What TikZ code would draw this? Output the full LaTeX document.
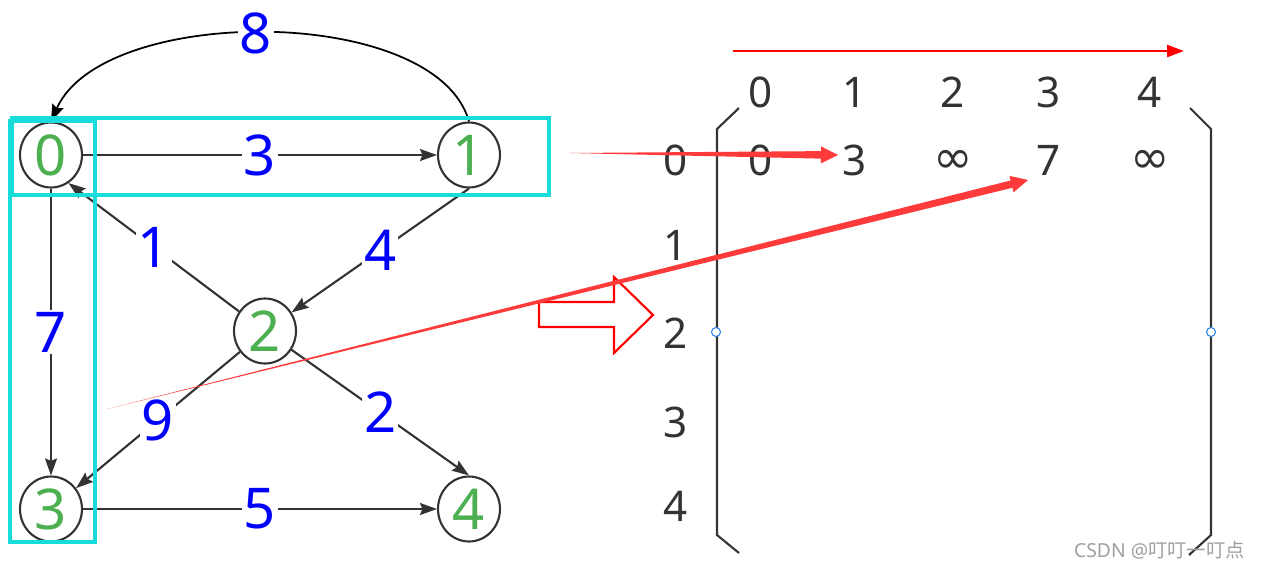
\documentclass[tikz,border=0pt]{standalone}
\usepackage{fontspec}
\setmainfont{Noto Sans}
\newfontfamily\cjk{Noto Sans CJK SC}
\newfontfamily\symfont{DejaVu Sans}
\usetikzlibrary{shapes.geometric,arrows.meta,calc}
\definecolor{edgegray}{HTML}{333333}
\definecolor{numgreen}{RGB}{76,175,80}
\definecolor{selcyan}{RGB}{24,220,220}
\definecolor{wedgered}{RGB}{255,58,58}
\definecolor{selblue}{RGB}{40,130,230}
\tikzset{
  vertex/.style={ellipse, draw=edgegray, line width=1.2pt, minimum width=1.24cm,
    minimum height=1.3cm, inner sep=0pt, text=numgreen, font=\fontsize{32}{32}\selectfont},
  weight/.style={fill=white, text=blue, inner sep=1pt, font=\fontsize{32}{32}\selectfont},
  arc/.style={draw=edgegray, line width=1.2pt, -{Stealth[length=0.34cm,width=0.24cm,inset=0.05cm]}},
  entry/.style={text=edgegray, font=\fontsize{24}{24}\selectfont},
  infty/.style={text=edgegray, font=\symfont\fontsize{27}{27}\selectfont},
  bracket/.style={draw=edgegray, line width=1.2pt},
}
\begin{document}
\begin{tikzpicture}[x=0.02cm,y=-0.02cm]
        \useasboundingbox (0,0) rectangle (1265,569);
        % the graph
        \node[vertex] (v0) at (51,155) {0};
        \node[vertex] (v1) at (469,155) {1};
        \node[vertex] (v2) at (265,331) {2};
        \node[vertex] (v3) at (51,509) {3};
        \node[vertex] (v4) at (469,509) {4};
        \draw[arc] (v0) -- node[weight] {3} (v1);
        \draw[arc] (v1.south) -- node[weight] {4} (v2);
        \draw[arc] (v2) -- node[weight] {1} (v0.-58);
        \draw[arc] (v0) -- node[weight] {7} (v3);
        \draw[arc] (v2) -- node[weight] {9} (v3);
        \draw[arc] (v2) -- node[weight] {2} (v4.north);
        \draw[arc] (v3) -- node[weight] {5} (v4);
        \draw[arc, draw=black, line width=1pt] (v1.north) .. controls (436,4) and (103,4) .. node[weight, pos=0.52] {8} (v0.north);
        % selection boxes
        \draw[selcyan, line width=2pt] (12,118) rectangle (549,195);
        \draw[selcyan, line width=2pt] (10,121) rectangle (95,542);
        % the matrix
        \foreach \c [count=\i from 0] in {761,855,953,1049,1150}
        \node[entry] (h\i) at (\c,92) {\i};
        \foreach \r [count=\i from 0] in {160,245,333,422,506}
        \node[entry] (r\i) at (676,\r) {\i};
        \node[entry] (m0) at (761,160) {0};
        \node[entry] (m1) at (855,160) {3};
        \node[infty] (m2) at (953,162) {∞};
        \node[entry] (m3) at (1049,160) {7};
        \node[infty] (m4) at (1150,162) {∞};
        \draw[bracket] (739,108) -- (717,129) -- (717,535) -- (739,553);
        \draw[bracket] (1190,108) -- (1211,129) -- (1211,535) -- (1189,555);
        \draw[selblue, fill=white, line width=0.6pt] (716,332) circle [radius=0.09cm];
        \draw[selblue, fill=white, line width=0.6pt] (1211,332) circle [radius=0.09cm];
        % red marks
        \coordinate (ta) at (733,51);
        \coordinate (tb) at (1184,51);
        \draw[red, line width=1.4pt, -{Triangle[length=0.34cm,width=0.24cm]}] (ta) -- (tb);
        \draw[red, line width=1.2pt] (539,302) -- (614,302) -- (614,277) -- (653,315)
          -- (614,353) -- (614,327) -- (539,327) -- cycle;
        \coordinate (wa) at (569,153);
        \coordinate (wb) at (838,155);
        \coordinate (wc) at (107,409);
        \coordinate (wd) at (1028,180);
        \foreach \s/\t in {wa/wb, wc/wd}{
          \coordinate (base) at ($(\t)!0.34cm!(\s)$);
          \fill[wedgered] (\s) -- ($(base)!0.075cm!90:(\t)$) -- ($(base)!0.17cm!90:(\t)$) -- (\t)
            -- ($(base)!0.17cm!-90:(\t)$) -- ($(base)!0.075cm!-90:(\t)$) -- cycle;
        }
        \node[text=gray!75, anchor=east, font=\fontsize{11}{11}\selectfont] (mark) at (1251,550) {CSDN @{\cjk 叮叮一叮点}};
    \end{tikzpicture}
\end{document}
